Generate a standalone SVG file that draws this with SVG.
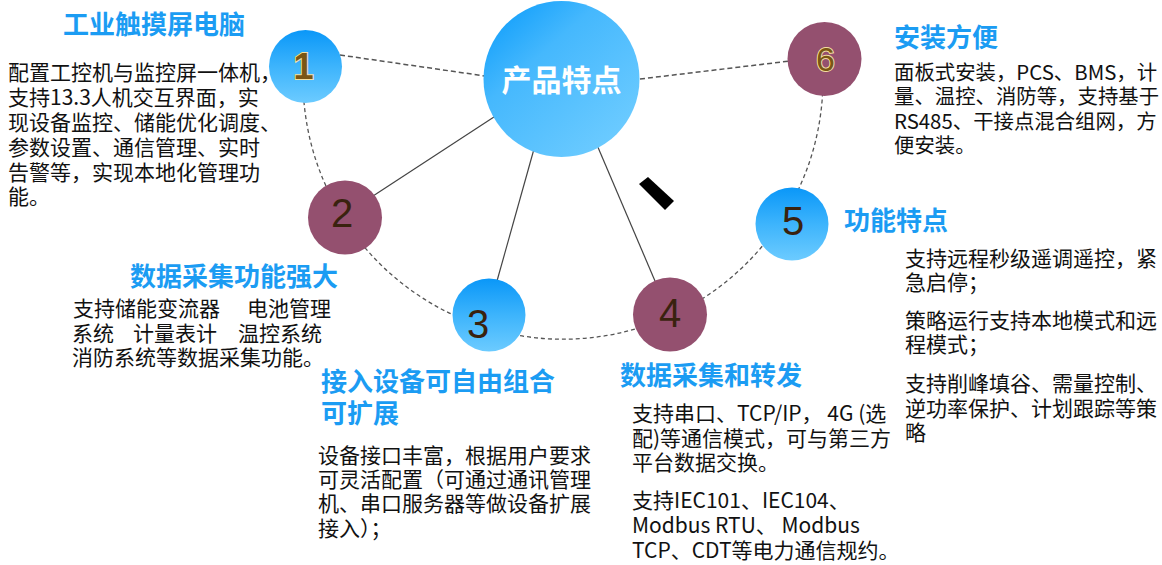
<svg xmlns="http://www.w3.org/2000/svg" width="1162" height="565" viewBox="0 0 1162 565">
<defs>
<linearGradient id="gBlue" x1="0" y1="0" x2="0" y2="1">
<stop offset="0" stop-color="#0a97f8"/>
<stop offset="0.5" stop-color="#3db4fc"/>
<stop offset="1" stop-color="#6ccbff"/>
</linearGradient>
<linearGradient id="gCenter" x1="0.1" y1="0.05" x2="0.85" y2="0.9">
<stop offset="0" stop-color="#129ffb"/>
<stop offset="0.35" stop-color="#45b8fd"/>
<stop offset="1" stop-color="#6ccbff"/>
</linearGradient>
<style>
.title{font-family:"Noto Sans CJK SC","Noto Sans",sans-serif;font-size:26px;font-weight:bold;fill:#1b9cf3}
.body{font-family:"Noto Sans CJK SC","Noto Sans",sans-serif;font-size:21px;fill:#111}
.body6{font-family:"Noto Sans CJK SC","Noto Sans",sans-serif;font-size:20.4px;fill:#111}
.num{font-family:"Liberation Sans",Arial,sans-serif;font-size:40px;fill:#3a220e;text-anchor:middle}
.gold{font-family:"Liberation Sans",Arial,sans-serif;fill:#7a5614;stroke:#f3dea0;stroke-width:2;paint-order:stroke;text-anchor:middle}
.mauve{fill:#94506f}
.dash{fill:none;stroke:#555;stroke-width:1.3;stroke-dasharray:4 3}
.dash2{fill:none;stroke:#555;stroke-width:1.5;stroke-dasharray:5 3}
.solid{fill:none;stroke:#444;stroke-width:1.2}
</style>
</defs>
<rect width="1162" height="565" fill="#fff"/>
<g id="connectors">
<path class="dash" d="M 303.3 66.3 A 260 260 0 1 0 822.2 59.1"/>
<line class="dash2" x1="340" y1="55" x2="485" y2="76"/>
<line class="dash2" x1="640" y1="79" x2="790" y2="61"/>
<line class="solid" x1="497" y1="115" x2="373" y2="196"/>
<line class="solid" x1="534" y1="149" x2="497" y2="281"/>
<line class="solid" x1="597" y1="145" x2="655" y2="281"/>
</g>
<polygon id="mark" points="639,184 648,177 674,201 665,210" fill="#000"/>
<g id="node-center">
<circle cx="561.5" cy="79" r="78" fill="url(#gCenter)"/>
<text x="561.5" y="91" text-anchor="middle" font-family="Noto Sans CJK SC, Noto Sans, sans-serif" font-size="30" font-weight="bold" fill="#fff">产品特点</text>
</g>
<g id="node-1">
<circle cx="305.5" cy="66.5" r="36.5" fill="url(#gBlue)"/>
<text class="gold" x="303.5" y="79" font-size="36" font-weight="bold">1</text>
<text class="title" x="63" y="34">工业触摸屏电脑</text>
<text class="body" x="8" y="80">配置工控机与监控屏一体机，</text>
<text class="body" x="8" y="105">支持13.3人机交互界面，实</text>
<text class="body" x="8" y="130">现设备监控、储能优化调度、</text>
<text class="body" x="8" y="155">参数设置、通信管理、实时</text>
<text class="body" x="8" y="180">告警等，实现本地化管理功</text>
<text class="body" x="8" y="204">能。</text>
</g>
<g id="node-2">
<circle class="mauve" cx="345" cy="217.5" r="37"/>
<text class="num" x="342" y="227">2</text>
<text class="title" x="130" y="286">数据采集功能强大</text>
<text class="body" x="73" y="316">支持储能变流器</text>
<text class="body" x="247" y="316">电池管理</text>
<text class="body" x="72" y="341">系统</text>
<text class="body" x="133" y="341">计量表计</text>
<text class="body" x="238" y="341">温控系统</text>
<text class="body" x="72" y="365">消防系统等数据采集功能。</text>
</g>
<g id="node-3">
<circle cx="489" cy="315" r="36.5" fill="url(#gBlue)"/>
<text class="num" x="478" y="338">3</text>
<text class="title" x="321" y="391">接入设备可自由组合</text>
<text class="title" x="321" y="423">可扩展</text>
<text class="body" x="318" y="463">设备接口丰富，根据用户要求</text>
<text class="body" x="318" y="487">可灵活配置（可通过通讯管理</text>
<text class="body" x="318" y="511">机、串口服务器等做设备扩展</text>
<text class="body" x="318" y="536">接入）；</text>
</g>
<g id="node-4">
<circle class="mauve" cx="670" cy="314.5" r="37"/>
<text class="num" x="670" y="327">4</text>
<text class="title" x="620" y="385">数据采集和转发</text>
<text class="body" x="632" y="421">支持串口、TCP/IP， 4G (选</text>
<text class="body" x="632" y="446">配)等通信模式，可与第三方</text>
<text class="body" x="632" y="470">平台数据交换。</text>
<text class="body" x="632" y="508">支持IEC101、IEC104、</text>
<text class="body" x="632" y="533">Modbus RTU、 Modbus</text>
<text class="body" x="632" y="558">TCP、CDT等电力通信规约。</text>
</g>
<g id="node-5">
<circle cx="792" cy="224" r="36.5" fill="url(#gBlue)"/>
<text class="num" x="793" y="235">5</text>
<text class="title" x="844" y="230">功能特点</text>
<text class="body" x="905" y="266">支持远程秒级遥调遥控，紧</text>
<text class="body" x="905" y="290">急启停；</text>
<text class="body" x="905" y="328">策略运行支持本地模式和远</text>
<text class="body" x="905" y="352">程模式；</text>
<text class="body" x="905" y="391">支持削峰填谷、需量控制、</text>
<text class="body" x="905" y="416">逆功率保护、计划跟踪等策</text>
<text class="body" x="905" y="440">略</text>
</g>
<g id="node-6">
<circle class="mauve" cx="824.5" cy="59" r="37"/>
<text class="gold" x="825.5" y="71" font-size="34">6</text>
<text class="title" x="894" y="47">安装方便</text>
<text class="body6" x="894" y="80">面板式安装，PCS、BMS，计</text>
<text class="body6" x="894" y="104">量、温控、消防等，支持基于</text>
<text class="body6" x="894" y="129">RS485、干接点混合组网，方</text>
<text class="body6" x="894" y="153">便安装。</text>
</g>
</svg>
